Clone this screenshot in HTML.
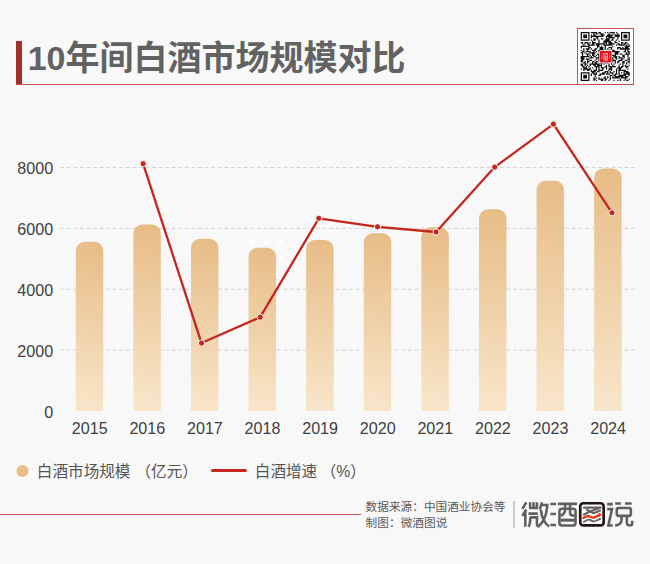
<!DOCTYPE html>
<html lang="zh"><head><meta charset="utf-8"><title>10年间白酒市场规模对比</title>
<style>
html,body{margin:0;padding:0}
body{width:650px;height:564px;position:relative;overflow:hidden;background:#f8f8f8;font-family:"Liberation Sans",sans-serif}
#c{position:absolute;left:0;top:0;width:650px;height:564px}
#c text{font-family:"Liberation Sans","Noto Sans CJK SC",sans-serif}
.bar{position:absolute;left:16px;top:41px;width:6px;height:44px;background:#a5302b}
.ul{position:absolute;left:16px;top:83.8px;width:561.5px;height:1px;background:#c4534e}
.qrbox{position:absolute;left:576.9px;top:27.9px;width:55.3px;height:55.3px;border:1px solid #c4534e;background:#fff}
.fl{position:absolute;left:0;top:513.9px;width:361.3px;height:1px;background:#c4534e}
.dv{position:absolute;left:513.1px;top:501.4px;width:1.8px;height:26.6px;background:#c8c8c8}
</style></head><body>
<div class="bar"></div><div class="ul"></div><div class="qrbox"></div><div class="fl"></div><div class="dv"></div>
<svg id="c" viewBox="0 0 650 564" width="650" height="564">
<defs><linearGradient id="g0" gradientUnits="userSpaceOnUse" x1="75.75" y1="411.0" x2="103.25" y2="241.76"><stop offset="0" stop-color="#f8e6ca"/><stop offset="1" stop-color="#e7bc86"/></linearGradient><linearGradient id="g1" gradientUnits="userSpaceOnUse" x1="133.35" y1="411.0" x2="160.85" y2="224.50"><stop offset="0" stop-color="#f8e6ca"/><stop offset="1" stop-color="#e7bc86"/></linearGradient><linearGradient id="g2" gradientUnits="userSpaceOnUse" x1="190.95" y1="411.0" x2="218.45" y2="238.87"><stop offset="0" stop-color="#f8e6ca"/><stop offset="1" stop-color="#e7bc86"/></linearGradient><linearGradient id="g3" gradientUnits="userSpaceOnUse" x1="248.55" y1="411.0" x2="276.05" y2="247.70"><stop offset="0" stop-color="#f8e6ca"/><stop offset="1" stop-color="#e7bc86"/></linearGradient><linearGradient id="g4" gradientUnits="userSpaceOnUse" x1="306.15" y1="411.0" x2="333.65" y2="239.97"><stop offset="0" stop-color="#f8e6ca"/><stop offset="1" stop-color="#e7bc86"/></linearGradient><linearGradient id="g5" gradientUnits="userSpaceOnUse" x1="363.75" y1="411.0" x2="391.25" y2="233.33"><stop offset="0" stop-color="#f8e6ca"/><stop offset="1" stop-color="#e7bc86"/></linearGradient><linearGradient id="g6" gradientUnits="userSpaceOnUse" x1="421.35" y1="411.0" x2="448.85" y2="227.33"><stop offset="0" stop-color="#f8e6ca"/><stop offset="1" stop-color="#e7bc86"/></linearGradient><linearGradient id="g7" gradientUnits="userSpaceOnUse" x1="478.95" y1="411.0" x2="506.45" y2="209.28"><stop offset="0" stop-color="#f8e6ca"/><stop offset="1" stop-color="#e7bc86"/></linearGradient><linearGradient id="g8" gradientUnits="userSpaceOnUse" x1="536.55" y1="411.0" x2="564.05" y2="180.75"><stop offset="0" stop-color="#f8e6ca"/><stop offset="1" stop-color="#e7bc86"/></linearGradient><linearGradient id="g9" gradientUnits="userSpaceOnUse" x1="594.15" y1="411.0" x2="621.65" y2="168.55"><stop offset="0" stop-color="#f8e6ca"/><stop offset="1" stop-color="#e7bc86"/></linearGradient></defs>
<line x1="60.26" x2="635.3" y1="350.11" y2="350.11" stroke="#d4d4d4" stroke-width="1" stroke-dasharray="3.9 2.66"/>
<line x1="60.26" x2="635.3" y1="289.23" y2="289.23" stroke="#d4d4d4" stroke-width="1" stroke-dasharray="3.9 2.66"/>
<line x1="60.26" x2="635.3" y1="228.34" y2="228.34" stroke="#d4d4d4" stroke-width="1" stroke-dasharray="3.9 2.66"/>
<line x1="60.26" x2="635.3" y1="167.45" y2="167.45" stroke="#d4d4d4" stroke-width="1" stroke-dasharray="3.9 2.66"/>
<circle cx="252.8" cy="242" r="2.8" fill="#fff" opacity="0.8"/>
<circle cx="266.6" cy="242" r="2.8" fill="#fff" opacity="0.8"/>
<circle cx="280.5" cy="242" r="2.8" fill="#fff" opacity="0.7"/>
<circle cx="293.8" cy="242" r="2.8" fill="#fff" opacity="0.35"/>
<circle cx="280.5" cy="256.6" r="2.8" fill="#fff" opacity="0.65"/>
<path fill="url(#g0)" d="M75.75 411.0V250.76a9 9 0 0 1 9 -9h9.5a9 9 0 0 1 9 9V411.0z"/>
<path fill="url(#g1)" d="M133.35 411.0V233.50a9 9 0 0 1 9 -9h9.5a9 9 0 0 1 9 9V411.0z"/>
<path fill="url(#g2)" d="M190.95 411.0V247.87a9 9 0 0 1 9 -9h9.5a9 9 0 0 1 9 9V411.0z"/>
<path fill="url(#g3)" d="M248.55 411.0V256.70a9 9 0 0 1 9 -9h9.5a9 9 0 0 1 9 9V411.0z"/>
<path fill="url(#g4)" d="M306.15 411.0V248.97a9 9 0 0 1 9 -9h9.5a9 9 0 0 1 9 9V411.0z"/>
<path fill="url(#g5)" d="M363.75 411.0V242.33a9 9 0 0 1 9 -9h9.5a9 9 0 0 1 9 9V411.0z"/>
<path fill="url(#g6)" d="M421.35 411.0V236.33a9 9 0 0 1 9 -9h9.5a9 9 0 0 1 9 9V411.0z"/>
<path fill="url(#g7)" d="M478.95 411.0V218.28a9 9 0 0 1 9 -9h9.5a9 9 0 0 1 9 9V411.0z"/>
<path fill="url(#g8)" d="M536.55 411.0V189.75a9 9 0 0 1 9 -9h9.5a9 9 0 0 1 9 9V411.0z"/>
<path fill="url(#g9)" d="M594.15 411.0V177.55a9 9 0 0 1 9 -9h9.5a9 9 0 0 1 9 9V411.0z"/>
<polyline points="143.1,163.7 201.5,343.05 260.2,317.2 318.8,218.3 377.5,226.8 436.1,232.0 494.7,167.1 553.4,124.1 612.0,212.8" fill="none" stroke="#c3261d" stroke-width="2.3" stroke-linejoin="round" stroke-linecap="round"/>
<circle cx="143.1" cy="163.7" r="3.1" fill="#c3261d" stroke="#fff" stroke-width="0.9"/>
<circle cx="201.5" cy="343.05" r="3.1" fill="#c3261d" stroke="#fff" stroke-width="0.9"/>
<circle cx="260.2" cy="317.2" r="3.1" fill="#c3261d" stroke="#fff" stroke-width="0.9"/>
<circle cx="318.8" cy="218.3" r="3.1" fill="#c3261d" stroke="#fff" stroke-width="0.9"/>
<circle cx="377.5" cy="226.8" r="3.1" fill="#c3261d" stroke="#fff" stroke-width="0.9"/>
<circle cx="436.1" cy="232.0" r="3.1" fill="#c3261d" stroke="#fff" stroke-width="0.9"/>
<circle cx="494.7" cy="167.1" r="3.1" fill="#c3261d" stroke="#fff" stroke-width="0.9"/>
<circle cx="553.4" cy="124.1" r="3.1" fill="#c3261d" stroke="#fff" stroke-width="0.9"/>
<circle cx="612.0" cy="212.8" r="3.1" fill="#c3261d" stroke="#fff" stroke-width="0.9"/>
<circle cx="22.5" cy="471.1" r="6" fill="#e8bd86"/>
<line x1="212.5" x2="245.4" y1="470.5" y2="470.5" stroke="#c3261d" stroke-width="3" stroke-linecap="round"/>
<g id="qr"><g transform="translate(580.7 32.0) scale(1.2590)"><path fill="#111" d="M0 0h7v1h-7zM8 0h5v1h-5zM14 0h2v1h-2zM19 0h1v1h-1zM21 0h1v1h-1zM23 0h4v1h-4zM28 0h1v1h-1zM32 0h7v1h-7zM0 1h1v1h-1zM6 1h1v1h-1zM10 1h1v1h-1zM12 1h2v1h-2zM15 1h3v1h-3zM22 1h1v1h-1zM26 1h1v1h-1zM29 1h1v1h-1zM32 1h1v1h-1zM38 1h1v1h-1zM0 2h1v1h-1zM2 2h3v1h-3zM6 2h1v1h-1zM8 2h1v1h-1zM10 2h2v1h-2zM16 2h3v1h-3zM21 2h5v1h-5zM27 2h4v1h-4zM32 2h1v1h-1zM34 2h3v1h-3zM38 2h1v1h-1zM0 3h1v1h-1zM2 3h3v1h-3zM6 3h1v1h-1zM8 3h10v1h-10zM20 3h5v1h-5zM27 3h4v1h-4zM32 3h1v1h-1zM34 3h3v1h-3zM38 3h1v1h-1zM0 4h1v1h-1zM2 4h3v1h-3zM6 4h1v1h-1zM8 4h1v1h-1zM12 4h2v1h-2zM20 4h1v1h-1zM22 4h5v1h-5zM29 4h1v1h-1zM32 4h1v1h-1zM34 4h3v1h-3zM38 4h1v1h-1zM0 5h1v1h-1zM6 5h1v1h-1zM10 5h2v1h-2zM13 5h1v1h-1zM16 5h2v1h-2zM20 5h3v1h-3zM25 5h1v1h-1zM29 5h1v1h-1zM32 5h1v1h-1zM38 5h1v1h-1zM0 6h7v1h-7zM8 6h1v1h-1zM10 6h2v1h-2zM14 6h1v1h-1zM19 6h4v1h-4zM24 6h2v1h-2zM28 6h1v1h-1zM32 6h7v1h-7zM9 7h1v1h-1zM14 7h1v1h-1zM18 7h6v1h-6zM27 7h1v1h-1zM30 7h1v1h-1zM0 8h2v1h-2zM3 8h3v1h-3zM7 8h1v1h-1zM9 8h3v1h-3zM14 8h1v1h-1zM18 8h3v1h-3zM22 8h3v1h-3zM27 8h2v1h-2zM32 8h2v1h-2zM35 8h2v1h-2zM1 9h1v1h-1zM3 9h1v1h-1zM5 9h2v1h-2zM9 9h2v1h-2zM12 9h7v1h-7zM20 9h1v1h-1zM22 9h5v1h-5zM29 9h2v1h-2zM32 9h1v1h-1zM34 9h2v1h-2zM37 9h1v1h-1zM2 10h1v1h-1zM6 10h5v1h-5zM12 10h3v1h-3zM18 10h7v1h-7zM28 10h1v1h-1zM30 10h5v1h-5zM36 10h1v1h-1zM38 10h1v1h-1zM0 11h7v1h-7zM13 11h2v1h-2zM16 11h1v1h-1zM19 11h1v1h-1zM25 11h1v1h-1zM35 11h4v1h-4zM0 12h1v1h-1zM6 12h2v1h-2zM13 12h1v1h-1zM15 12h3v1h-3zM19 12h1v1h-1zM22 12h3v1h-3zM29 12h3v1h-3zM33 12h1v1h-1zM35 12h3v1h-3zM2 13h1v1h-1zM4 13h3v1h-3zM8 13h1v1h-1zM11 13h2v1h-2zM15 13h3v1h-3zM19 13h1v1h-1zM21 13h1v1h-1zM24 13h1v1h-1zM29 13h1v1h-1zM31 13h8v1h-8zM0 14h1v1h-1zM2 14h1v1h-1zM5 14h1v1h-1zM9 14h3v1h-3zM14 14h5v1h-5zM20 14h1v1h-1zM22 14h2v1h-2zM25 14h2v1h-2zM35 14h1v1h-1zM37 14h1v1h-1zM1 15h2v1h-2zM4 15h4v1h-4zM10 15h1v1h-1zM12 15h1v1h-1zM14 15h4v1h-4zM19 15h2v1h-2zM23 15h8v1h-8zM34 15h2v1h-2zM37 15h2v1h-2zM0 16h2v1h-2zM3 16h1v1h-1zM7 16h5v1h-5zM15 16h2v1h-2zM19 16h1v1h-1zM21 16h2v1h-2zM27 16h3v1h-3zM36 16h1v1h-1zM38 16h1v1h-1zM1 17h1v1h-1zM4 17h3v1h-3zM9 17h2v1h-2zM13 17h2v1h-2zM16 17h3v1h-3zM22 17h3v1h-3zM27 17h3v1h-3zM31 17h2v1h-2zM35 17h4v1h-4zM1 18h1v1h-1zM5 18h1v1h-1zM7 18h1v1h-1zM9 18h2v1h-2zM12 18h1v1h-1zM14 18h4v1h-4zM20 18h3v1h-3zM24 18h4v1h-4zM33 18h2v1h-2zM37 18h1v1h-1zM0 19h7v1h-7zM8 19h1v1h-1zM10 19h2v1h-2zM14 19h4v1h-4zM19 19h2v1h-2zM22 19h2v1h-2zM26 19h3v1h-3zM30 19h1v1h-1zM33 19h2v1h-2zM37 19h1v1h-1zM0 20h3v1h-3zM7 20h3v1h-3zM12 20h4v1h-4zM17 20h1v1h-1zM23 20h3v1h-3zM27 20h2v1h-2zM30 20h3v1h-3zM34 20h1v1h-1zM38 20h1v1h-1zM0 21h3v1h-3zM4 21h3v1h-3zM12 21h1v1h-1zM14 21h1v1h-1zM16 21h1v1h-1zM18 21h4v1h-4zM24 21h2v1h-2zM28 21h1v1h-1zM32 21h2v1h-2zM37 21h2v1h-2zM0 22h2v1h-2zM5 22h1v1h-1zM7 22h2v1h-2zM11 22h1v1h-1zM14 22h5v1h-5zM21 22h3v1h-3zM25 22h3v1h-3zM30 22h3v1h-3zM35 22h2v1h-2zM38 22h1v1h-1zM0 23h2v1h-2zM3 23h1v1h-1zM5 23h2v1h-2zM9 23h2v1h-2zM12 23h2v1h-2zM15 23h1v1h-1zM17 23h1v1h-1zM19 23h3v1h-3zM25 23h1v1h-1zM27 23h1v1h-1zM29 23h2v1h-2zM33 23h2v1h-2zM37 23h2v1h-2zM2 24h2v1h-2zM5 24h1v1h-1zM9 24h1v1h-1zM11 24h2v1h-2zM15 24h3v1h-3zM19 24h3v1h-3zM24 24h1v1h-1zM27 24h1v1h-1zM29 24h1v1h-1zM33 24h2v1h-2zM36 24h1v1h-1zM38 24h1v1h-1zM0 25h2v1h-2zM3 25h2v1h-2zM7 25h8v1h-8zM16 25h1v1h-1zM18 25h1v1h-1zM22 25h1v1h-1zM24 25h1v1h-1zM26 25h1v1h-1zM31 25h1v1h-1zM33 25h1v1h-1zM36 25h1v1h-1zM0 26h2v1h-2zM3 26h1v1h-1zM5 26h1v1h-1zM7 26h1v1h-1zM10 26h2v1h-2zM13 26h4v1h-4zM20 26h1v1h-1zM22 26h1v1h-1zM25 26h1v1h-1zM30 26h1v1h-1zM33 26h1v1h-1zM35 26h1v1h-1zM38 26h1v1h-1zM1 27h2v1h-2zM4 27h1v1h-1zM6 27h1v1h-1zM11 27h4v1h-4zM16 27h1v1h-1zM19 27h2v1h-2zM22 27h6v1h-6zM30 27h1v1h-1zM32 27h2v1h-2zM35 27h3v1h-3zM2 28h3v1h-3zM7 28h1v1h-1zM9 28h1v1h-1zM12 28h1v1h-1zM14 28h1v1h-1zM16 28h3v1h-3zM20 28h1v1h-1zM23 28h2v1h-2zM29 28h4v1h-4zM36 28h1v1h-1zM0 29h1v1h-1zM2 29h6v1h-6zM12 29h1v1h-1zM14 29h1v1h-1zM17 29h1v1h-1zM20 29h1v1h-1zM22 29h3v1h-3zM28 29h1v1h-1zM30 29h2v1h-2zM37 29h1v1h-1zM2 30h1v1h-1zM5 30h2v1h-2zM8 30h1v1h-1zM10 30h3v1h-3zM14 30h4v1h-4zM22 30h1v1h-1zM24 30h1v1h-1zM28 30h1v1h-1zM30 30h6v1h-6zM8 31h4v1h-4zM13 31h2v1h-2zM19 31h3v1h-3zM23 31h1v1h-1zM26 31h1v1h-1zM28 31h1v1h-1zM30 31h1v1h-1zM34 31h4v1h-4zM0 32h7v1h-7zM9 32h2v1h-2zM12 32h1v1h-1zM17 32h3v1h-3zM21 32h1v1h-1zM23 32h3v1h-3zM28 32h1v1h-1zM30 32h1v1h-1zM32 32h1v1h-1zM34 32h1v1h-1zM36 32h3v1h-3zM0 33h1v1h-1zM6 33h1v1h-1zM8 33h1v1h-1zM10 33h3v1h-3zM15 33h4v1h-4zM20 33h3v1h-3zM25 33h1v1h-1zM27 33h2v1h-2zM30 33h1v1h-1zM34 33h5v1h-5zM0 34h1v1h-1zM2 34h3v1h-3zM6 34h1v1h-1zM8 34h1v1h-1zM11 34h1v1h-1zM14 34h2v1h-2zM23 34h2v1h-2zM26 34h2v1h-2zM30 34h6v1h-6zM38 34h1v1h-1zM0 35h1v1h-1zM2 35h3v1h-3zM6 35h1v1h-1zM11 35h1v1h-1zM19 35h1v1h-1zM21 35h1v1h-1zM23 35h1v1h-1zM25 35h1v1h-1zM27 35h7v1h-7zM35 35h3v1h-3zM0 36h1v1h-1zM2 36h3v1h-3zM6 36h1v1h-1zM10 36h1v1h-1zM12 36h1v1h-1zM14 36h1v1h-1zM18 36h2v1h-2zM21 36h1v1h-1zM23 36h1v1h-1zM25 36h6v1h-6zM32 36h5v1h-5zM0 37h1v1h-1zM6 37h1v1h-1zM10 37h2v1h-2zM14 37h4v1h-4zM19 37h2v1h-2zM23 37h1v1h-1zM31 37h1v1h-1zM35 37h1v1h-1zM38 37h1v1h-1zM0 38h7v1h-7zM10 38h1v1h-1zM12 38h1v1h-1zM16 38h2v1h-2zM19 38h1v1h-1zM22 38h1v1h-1zM26 38h1v1h-1zM29 38h1v1h-1zM31 38h1v1h-1zM34 38h1v1h-1zM36 38h2v1h-2z"/></g><rect x="599.3" y="50.3" width="12.9" height="12.9" rx="1.3" fill="#fff"/><rect x="599.9" y="50.9" width="11.7" height="11.7" rx="1" fill="#e3101a"/><g transform="translate(596 47) scale(0.03546)" fill="none" stroke="#fff"><path d="M165,205V340M385,205V340" stroke-width="22" opacity=".45"/><path d="M215,186H330M222,186V385M322,186V385M222,255H300M300,255L240,320M255,330H322M255,380H322M262,330V380" stroke-width="20" opacity=".9"/></g></g>
<g id="vt">
<text x="27.7" y="69.7" font-size="34" font-weight="bold" fill="#626262">10年间白酒市场规模对比</text>
<text x="36.85" y="477" font-size="15.6" fill="#555555">白酒市场规模</text>
<text x="135.53" y="477" font-size="15.6" fill="#555555">（亿元）</text>
<text x="254.8" y="477" font-size="15.6" fill="#555555">白酒增速</text>
<text x="320.4" y="477" font-size="15.8" fill="#555555">（%）</text>
<text x="365.6" y="510.6" font-size="11.66" fill="#595959">数据来源：中国酒业协会等</text>
<text x="365.6" y="526.6" font-size="11.7" fill="#595959">制图：微酒图说</text>
<text x="53.1" y="418" font-size="16.1" fill="#3f3f3f" text-anchor="end">0</text>
<text x="53.1" y="356.96" font-size="16.1" fill="#3f3f3f" text-anchor="end">2000</text>
<text x="53.1" y="296.08" font-size="16.1" fill="#3f3f3f" text-anchor="end">4000</text>
<text x="53.1" y="235.19" font-size="16.1" fill="#3f3f3f" text-anchor="end">6000</text>
<text x="53.1" y="174.3" font-size="16.1" fill="#3f3f3f" text-anchor="end">8000</text>
<text x="89.7" y="434.05" font-size="16.1" fill="#3f3f3f" text-anchor="middle">2015</text>
<text x="147.3" y="434.05" font-size="16.1" fill="#3f3f3f" text-anchor="middle">2016</text>
<text x="204.9" y="434.05" font-size="16.1" fill="#3f3f3f" text-anchor="middle">2017</text>
<text x="262.5" y="434.05" font-size="16.1" fill="#3f3f3f" text-anchor="middle">2018</text>
<text x="320.1" y="434.05" font-size="16.1" fill="#3f3f3f" text-anchor="middle">2019</text>
<text x="377.7" y="434.05" font-size="16.1" fill="#3f3f3f" text-anchor="middle">2020</text>
<text x="435.3" y="434.05" font-size="16.1" fill="#3f3f3f" text-anchor="middle">2021</text>
<text x="492.9" y="434.05" font-size="16.1" fill="#3f3f3f" text-anchor="middle">2022</text>
<text x="550.5" y="434.05" font-size="16.1" fill="#3f3f3f" text-anchor="middle">2023</text>
<text x="608.1" y="434.05" font-size="16.1" fill="#3f3f3f" text-anchor="middle">2024</text>
</g>
<g id="logo"><g transform="translate(520 499) scale(0.05319)" fill="none" stroke="#5f5f5f" stroke-width="48">
<path d="M118,62L45,185M118,198L45,318M100,225V522"/>
<path d="M190,62V170M255,62V170M318,62V170M172,170H338M160,275H335"/>
<path d="M185,345H318V465Q320,515 365,518M192,345Q195,470 160,520"/>
<path d="M412,62L372,200M400,112H536M510,112C506,270 476,410 345,518M393,205C405,330 445,445 548,518"/>
</g><g transform="translate(548 499) scale(0.05319)" fill="none" stroke="#5f5f5f" stroke-width="48">
<path d="M45,95H150M45,283H150M45,490H150M185,92H545"/>
<rect x="215" y="185" width="303" height="313" rx="45"/>
<path d="M322,92V200Q318,280 238,318M415,92V270Q418,312 495,315"/><path d="M235,398H500" stroke-width="56"/>
</g><g transform="translate(576 499) scale(0.05319)" fill="none">
<rect x="80" y="80" width="440" height="415" rx="55" fill="#fff" stroke="#231815" stroke-width="50"/>
<path d="M135,162H465L250,240L135,300M195,198L330,268L468,212" stroke="#636363" stroke-width="40" stroke-linejoin="round"/>
<path d="M122,362C170,340 200,318 235,322S290,352 320,350S420,310 450,295" stroke="#e7380d" stroke-width="44"/>
<path d="M412,268L484,278L446,338z" fill="#e7380d"/>
<path d="M135,437C180,415 210,385 245,388S300,420 325,420S420,390 450,375" stroke="#636363" stroke-width="34"/>
<path d="M424,352L478,360L448,408z" fill="#636363"/>
</g><g transform="translate(604 499) scale(0.05319)" fill="none" stroke="#5f5f5f" stroke-width="48">
<path d="M60,97H165" stroke-width="54"/>
<path d="M60,190H150L82,500H165"/>
<path d="M210,85H315M395,85H520"/>
<rect x="240" y="170" width="265" height="147" rx="35"/>
<path d="M330,320V400Q325,480 210,500M430,320V450Q432,495 480,495H500Q530,495 530,460V410"/>
</g></g>
</svg>
</body></html>
